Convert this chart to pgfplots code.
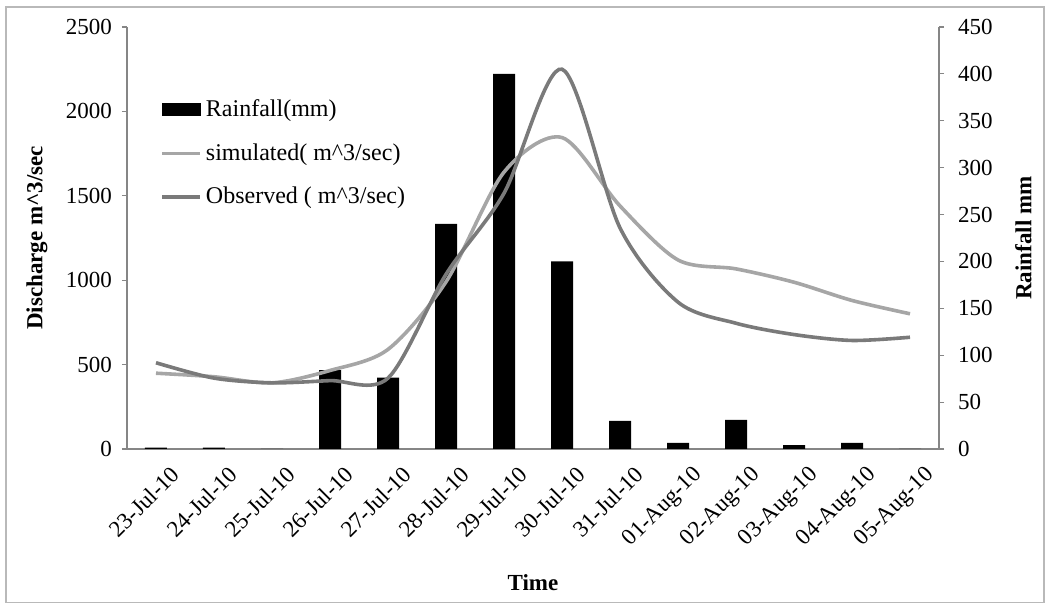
\documentclass[border=0pt]{standalone}
\usepackage{fontspec}
\setmainfont{Liberation Serif}
\usepackage{pgfplots}
\usepackage{pgfplotstable}
\pgfplotsset{compat=1.18}

\definecolor{axisgray}{RGB}{134,134,134}
\definecolor{simgray}{RGB}{166,166,166}
\definecolor{obsgray}{RGB}{122,122,122}

\pgfplotstableread{
x rain sim obs
0 1.5 449 511
1 1.5 428 420
2 0 392 392
3 84 465 405
4 76 590 420
5 240 990 1035
6 400 1640 1515
7 200 1845 2250
8 30 1440 1310
9 6.5 1120 870
10 31 1067 745
11 4 988 678
12 6.5 880 643
13 0 801 662
}\data

\pgfplotsset{
  common/.style={
    scale only axis, width=406pt, height=211pt,
    at={(0pt,0pt)}, anchor=south west,
    xmin=-0.5, xmax=13.5,
    axis line style={axisgray, line width=0.6pt, -},
    tick style={axisgray, line width=0.6pt},
    tick align=outside,
    major tick length=2.5pt,
    /pgf/number format/assume math mode=true,
    /pgf/number format/1000 sep={},
    ticklabel style={font=\fontsize{11.5}{13}\selectfont, text=black},
    label style={font=\bfseries\fontsize{11.5}{13}\selectfont},
  }
}

\begin{document}
\begin{tikzpicture}
\begin{axis}[common,
  axis y line*=right, axis x line*=bottom,
  ymin=0, ymax=450, ytick distance=50,
  xtick={0,...,13},
  xticklabels={23-Jul-10,24-Jul-10,25-Jul-10,26-Jul-10,27-Jul-10,28-Jul-10,29-Jul-10,30-Jul-10,31-Jul-10,01-Aug-10,02-Aug-10,03-Aug-10,04-Aug-10,05-Aug-10},
  x tick style={draw=none},
  minor xtick={-0.5,0.5,...,13.5},
  minor x tick style={axisgray, line width=0.6pt},
  minor tick length=2.5pt,
  xticklabel style={rotate=45, anchor=north east, yshift=-5pt, xshift=4.5pt},
  yticklabel style={xshift=3.5pt},
  ylabel={Rainfall mm},
  ylabel style={at={(axis description cs:1.104,0.5)}, anchor=center, rotate=0},
  xlabel={Time},
  xlabel style={at={(axis description cs:0.5,-0.3175)}, anchor=center},
  ybar, bar width=11pt,
]
\addplot[fill=black, draw=none] table[x=x, y=rain] {\data};
\end{axis}
\begin{axis}[common,
  axis y line*=left, axis x line=none,
  ymin=0, ymax=2500, ytick distance=500,
  yticklabel style={xshift=-1.5pt},
  ylabel={Discharge m\textasciicircum 3/sec},
  ylabel style={at={(axis description cs:-0.1108,0.5)}, anchor=center},
  legend cell align=left,
  legend style={draw=none, fill=none, inner sep=0pt,
    at={(axis description cs:0.0406,0.838)}, anchor=north west,
    font=\fontsize{12}{14}\selectfont, row sep=8pt},
  legend image code/.code={\draw[#1] (0pt,0pt) -- (19pt,0pt);},
]
\addlegendimage{legend image code/.code={\fill[black] (0pt,-3pt) rectangle (19pt,3pt);}}
\addlegendentry{Rainfall(mm)}
\addplot[simgray, line width=1.8pt, smooth, tension=0.5] table[x=x, y=sim] {\data};
\addlegendentry{simulated( m\textasciicircum 3/sec)}
\addplot[obsgray, line width=1.8pt, smooth, tension=0.5] table[x=x, y=obs] {\data};
\addlegendentry{Observed ( m\textasciicircum 3/sec)}
\end{axis}
\draw[gray!55, line width=0.8pt] (-60.5pt,-76.75pt) rectangle (458.5pt,221pt);
\pgfresetboundingbox
\useasboundingbox (-63.5pt,-78pt) rectangle (459.5pt,224.5pt);
\end{tikzpicture}
\end{document}
